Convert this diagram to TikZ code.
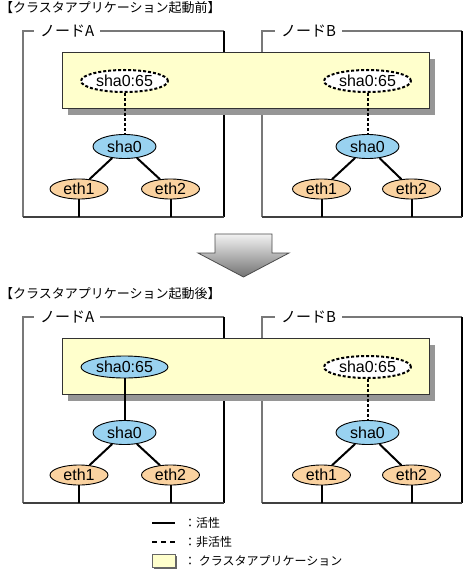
\documentclass[tikz,border=0pt]{standalone}
\usepackage{fontspec}
\setmainfont{Liberation Sans}
\newfontfamily\jp{Noto Sans CJK JP}
\usetikzlibrary{shapes.geometric}
\definecolor{shablue}{RGB}{153,210,240}
\definecolor{ethorange}{RGB}{250,210,160}
\definecolor{appyellow}{RGB}{255,255,204}
\definecolor{shadowgray}{RGB}{150,150,150}
\definecolor{boxgray}{RGB}{120,120,120}
\tikzset{
  ell/.style={ellipse, draw=black, line width=0.9pt, inner sep=0pt, font=\fontsize{16}{17}\selectfont},
  vip/.style={ell, minimum width=87pt, minimum height=22pt},
  act/.style={fill=shablue},
  inact/.style={fill=white, dash pattern=on 3pt off 2pt, line width=2pt},
  shaell/.style={ell, fill=shablue, minimum width=63pt, minimum height=24pt},
  ethell/.style={ell, fill=ethorange, minimum width=58pt, minimum height=20pt},
  conn/.style={line width=2pt, black},
  dconn/.style={line width=2pt, black, dash pattern=on 3pt off 2pt},
  boxlt/.style={line width=1.6pt, boxgray},
  boxrt/.style={line width=1.3pt, black},
  boxbt/.style={line width=1.6pt, black!75},
  boxlabel/.style={anchor=west, fill=white, inner xsep=6pt, inner ysep=2pt, font=\jp\fontsize{15}{16}\selectfont},
  titletext/.style={anchor=west, inner sep=0pt, font=\jp\fontsize{13}{15}\selectfont},
  appbox/.style={fill=appyellow, draw=black!80, line width=0.9pt},
  legtext/.style={anchor=west, inner sep=0pt, font=\jp\fontsize{12}{14}\selectfont},
}
\newcommand{\drawpanel}[5]{%
\begin{scope}[yshift=-#2pt]
  \node[titletext] (#1title) at (0,8) {#3};
  % node A frame
  \draw[boxlt] (23,217) -- (23,31) -- (224,31);
  \draw[boxrt] (224,31) -- (224,217);
  \draw[boxbt] (23,217) -- (224,217);
  \node[boxlabel] (#1laba) at (34,31) {ノードA};
  % node B frame
  \draw[boxlt] (262,217) -- (262,31) -- (462,31);
  \draw[boxrt] (462,31) -- (462,217);
  \draw[boxbt] (262,217) -- (462,217);
  \node[boxlabel] (#1labb) at (275,31) {ノードB};
  % cluster application box
  \fill[shadowgray] (68,59) rectangle (435,115);
  \draw[appbox] (62,52) rectangle (429,108);
  \coordinate (#1bot) at (0,217);
  \node[vip,#4] (#1vipa) at (124.5,81) {sha0:65};
  \node[vip,inact] (#1vipb) at (367.5,81) {sha0:65};
  \node[shaell] (#1shaa) at (124.5,146.5) {sha0};
  \node[shaell] (#1shab) at (367.5,146.5) {sha0};
  \node[ethell] (#1ea1) at (79,189) {eth1};
  \node[ethell] (#1ea2) at (170.5,189) {eth2};
  \node[ethell] (#1eb1) at (321.5,189) {eth1};
  \node[ethell] (#1eb2) at (411.5,189) {eth2};
  \draw[#5] (#1vipa) -- (#1shaa);
  \draw[dconn] (#1vipb) -- (#1shab);
  \draw[conn] (#1shaa) -- (#1ea1);
  \draw[conn] (#1shaa) -- (#1ea2);
  \draw[conn] (#1shab) -- (#1eb1);
  \draw[conn] (#1shab) -- (#1eb2);
  \draw[conn] (#1ea1.south) -- (#1ea1.south |- #1bot);
  \draw[conn] (#1ea2.south) -- (#1ea2.south |- #1bot);
  \draw[conn] (#1eb1.south) -- (#1eb1.south |- #1bot);
  \draw[conn] (#1eb2.south) -- (#1eb2.south |- #1bot);
\end{scope}}
\begin{document}
\begin{tikzpicture}[x=1pt,y=-1pt]
\useasboundingbox (0,0) rectangle (465,572);
\fill[white] (0,0) rectangle (465,572);
\drawpanel{u}{0}{【クラスタアプリケーション起動前】}{inact}{dconn}
\drawpanel{l}{286}{【クラスタアプリケーション起動後】}{act}{conn}
% big arrow
\shadedraw[top color=black!5, bottom color=black!55, draw=black!70, line width=0.8pt]
  (215,234) -- (272,234) -- (272,253) -- (289,253) -- (243.5,277) -- (198,253) -- (215,253) -- cycle;
% legend
\coordinate (ls1) at (152,523); \coordinate (le1) at (175,523);
\coordinate (ls2) at (152,542); \coordinate (le2) at (175,542);
\draw[line width=1.8pt] (ls1) -- (le1);
\draw[line width=1.8pt, dash pattern=on 5pt off 4pt] (ls2) -- (le2);
\fill[black!60] (154,556) rectangle (177,569);
\draw[fill=appyellow, draw=black!60, line width=0.8pt] (152,554) rectangle (175,567);
\node[legtext] (lg1) at (184,523) {：活性};
\node[legtext] (lg2) at (184,542) {：非活性};
\node[legtext] (lg3) at (184,561) {： クラスタアプリケーション};
\end{tikzpicture}
\end{document}
